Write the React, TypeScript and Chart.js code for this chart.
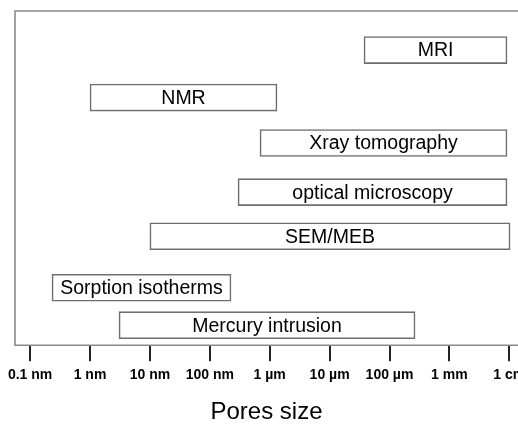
import { useEffect, useRef } from "react";
import { Chart, registerables } from "chart.js";

Chart.register(...registerables);

// Measurement methods and the pore-size range they cover (in nanometres)
const methods = [
  "MRI",
  "NMR",
  "Xray tomography",
  "optical microscopy",
  "SEM/MEB",
  "Sorption isotherms",
  "Mercury intrusion",
];
const rangeStartNm = [37500, 1, 689, 296, 10, 0.232, 3.05];
const rangeEndNm = [9.16e6, 1324, 9.16e6, 9.16e6, 1.03e7, 226, 2.67e5];
// vertical level of each row (0 = bottom of frame, 100 = top)
const rowLevels = [88.3, 74.1, 60.5, 45.8, 32.6, 17.2, 6.0];

const tickValuesNm = [0.1, 1, 10, 100, 1000, 1e4, 1e5, 1e6, 1e7];
const tickLabels = ["0.1 nm", "1 nm", "10 nm", "100 nm", "1 µm", "10 µm", "100 µm", "1 mm", "1 cm"];

const FONT = "'Liberation Sans', Arial, sans-serif";

const framePlugin = {
  id: "frame",
  beforeDatasetsDraw(chart: any) {
    const { ctx, chartArea } = chart;
    ctx.save();
    ctx.strokeStyle = "#8a8a8a";
    ctx.lineWidth = 1.6;
    ctx.beginPath();
    ctx.moveTo(chart.width + 2, chartArea.top);
    ctx.lineTo(chartArea.left, chartArea.top);
    ctx.lineTo(chartArea.left, chartArea.bottom);
    ctx.lineTo(chart.width + 2, chartArea.bottom);
    ctx.stroke();
    ctx.restore();
  },
};

const labelPlugin = {
  id: "boxLabels",
  afterDatasetsDraw(chart: any) {
    const { ctx } = chart;
    const meta = chart.getDatasetMeta(0);
    ctx.save();
    ctx.fillStyle = "#000";
    ctx.font = `19.5px ${FONT}`;
    ctx.textAlign = "center";
    ctx.textBaseline = "middle";
    meta.data.forEach((el: any, i: number) => {
      const cx = (el.x + el.base) / 2;
      ctx.fillText(methods[i], cx, el.y + 1);
    });
    ctx.restore();
  },
};

export default function App() {
  const ref = useRef<HTMLCanvasElement>(null);

  useEffect(() => {
    if (!ref.current) return;
    const data = methods.map((_, i) => ({
      y: rowLevels[i],
      x: [rangeStartNm[i], rangeEndNm[i]],
    }));
    const chart = new Chart(ref.current, {
      type: "bar",
      data: {
        datasets: [
          {
            data: data as any,
            backgroundColor: "#ffffff",
            borderColor: "#6e6e6e",
            borderWidth: 1.6,
            borderSkipped: false,
            barThickness: 27,
          },
        ],
      },
      options: {
        responsive: false,
        animation: false,
        indexAxis: "y",
        layout: { padding: { left: 15, top: 11, right: 0, bottom: 0 } },
        plugins: {
          legend: { display: false },
          tooltip: { enabled: false },
        },
        scales: {
          y: {
            type: "linear",
            min: 0,
            max: 100,
            offset: false,
            display: false,
          },
          x: {
            type: "logarithmic",
            min: 0.05596,
            max: 1.397e7,
            border: { display: false },
            grid: {
              drawOnChartArea: false,
              drawTicks: true,
              tickLength: 16,
              color: "#222222",
              lineWidth: 2,
            },
            afterBuildTicks: (scale: any) => {
              scale.ticks = tickValuesNm.map((v) => ({ value: v }));
            },
            afterFit: (scale: any) => {
              scale.paddingLeft = 0;
              scale.paddingRight = 0;
            },
            ticks: {
              autoSkip: false,
              maxRotation: 0,
              padding: 6,
              color: "#000",
              font: { family: FONT, size: 14, weight: "bold" },
              callback: (_v: any, index: number) => tickLabels[index],
            },
            title: {
              display: true,
              text: "Pores size",
              color: "#000",
              font: { family: FONT, size: 24, lineHeight: 1 },
              padding: { top: 10, bottom: 0 },
            },
          },
        },
      },
      plugins: [framePlugin, labelPlugin],
    });
    return () => chart.destroy();
  }, []);

  return (
    <canvas
      ref={ref}
      width={518}
      height={424}
      style={{ position: "absolute", left: 0, top: 0, display: "block" }}
    />
  );
}
